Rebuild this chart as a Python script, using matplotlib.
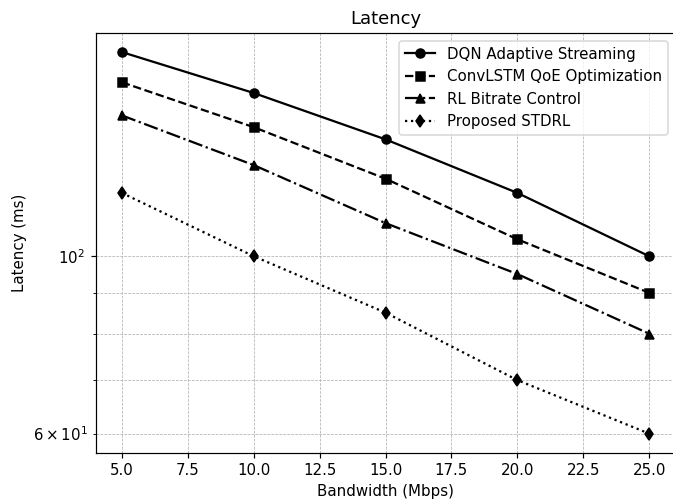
import numpy as np
import matplotlib.pyplot as plt

bandwidth = [5, 10, 15, 20, 25]
dqn = [180, 160, 140, 120, 100]
convlstm = [165, 145, 125, 105, 90]
rl_bitrate = [150, 130, 110, 95, 80]
stdrl = [120, 100, 85, 70, 60]

fig, ax = plt.subplots(figsize=(673 / 108, 503 / 108), dpi=108)
ax.plot(bandwidth, dqn, '-o', color='black', label='DQN Adaptive Streaming')
ax.plot(bandwidth, convlstm, '--s', color='black', label='ConvLSTM QoE Optimization')
ax.plot(bandwidth, rl_bitrate, '-.^', color='black', label='RL Bitrate Control')
ax.plot(bandwidth, stdrl, ':d', color='black', label='Proposed STDRL')
ax.set_yscale('log')
ax.set_xlabel('Bandwidth (Mbps)')
ax.set_ylabel('Latency (ms)')
ax.set_title('Latency')
ax.legend()
ax.grid(True, which='both', linestyle='--', linewidth=0.5)
# the reference is cropped on the right, so the axes run past the edge
ax.set_position([95.5 / 673, 1 - 452.7 / 503, 580 / 673, (452.7 - 33) / 503])
ax.spines['right'].set_visible(False)
fig.savefig('out.png')
